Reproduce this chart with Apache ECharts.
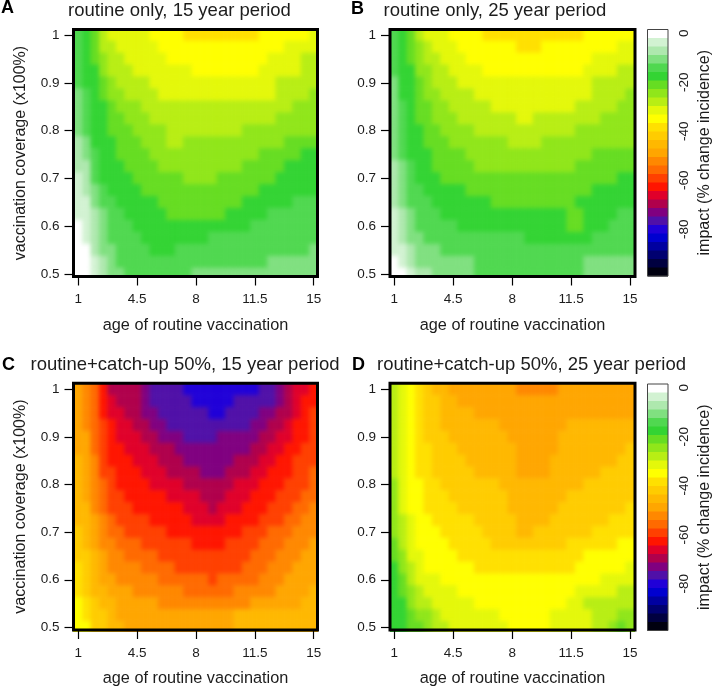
<!DOCTYPE html>
<html>
<head>
<meta charset="utf-8">
<title>Impact of vaccination</title>
<style>
html,body{margin:0;padding:0;background:#fff;}
#chart{width:714px;height:688px;}
/* layer zr_0 holds the heat cells only: soft edges like the resampled raster, trimmed to the four frames */
#chart canvas[data-zr-dom-id="zr_0"]{
  filter:blur(2.2px);
  clip-path:path("M73 29H318V277H73Z M390 29H635V277H390Z M73 383H318V632H73Z M390 383H635V632H390Z");
}
</style>
<script src="https://cdn.jsdelivr.net/npm/echarts@6/dist/echarts.min.js"></script>
</head>
<body>
<div id="chart"></div>
<script>
const ages=[1,1.5,2,2.5,3,3.5,4,4.5,5,5.5,6,6.5,7,7.5,8,8.5,9,9.5,10,10.5,11,11.5,12,12.5,13,13.5,14,14.5,15];
const coverages=[1,0.975,0.95,0.925,0.9,0.875,0.85,0.825,0.8,0.775,0.75,0.725,0.7,0.675,0.65,0.625,0.6,0.575,0.55,0.525,0.5];
const ageTicks=[1,4.5,8,11.5,15];
const coverageTicks=[0.5,0.6,0.7,0.8,0.9,1];
const impactTicks=[0,-20,-40,-60,-80];
const panelTitles=["routine only, 15 year period","routine only, 25 year period","routine+catch-up 50%, 15 year period","routine+catch-up 50%, 25 year period"];
const panelLetters=["A","B","C","D"];
const levelColors=["#ffffff","#d2f2d2","#aee8ae","#80e080","#50d850","#33d433","#66dd22","#90e61a","#b8ee14","#e4f80a","#ffff00","#ffe000","#ffcc00","#ffb800","#ffa600","#ff8800","#ff6a00","#ff4000","#ff1500","#e0002a","#b0004c","#800080","#5010a8","#2000d8","#0000d0","#0000a0","#000070","#000040","#000010"];
const levelValues=[0,-4,-7,-11,-14,-18,-21,-25,-28,-32,-35,-39,-42,-45,-49,-52,-56,-59,-63,-66,-70,-73,-77,-80,-84,-87,-91,-94,-97];

const impactA=[
[-14,-18,-21,-28,-32,-32,-32,-32,-32,-35,-35,-35,-35,-39,-39,-39,-39,-39,-39,-39,-39,-39,-35,-35,-35,-35,-35,-35,-32],
[-14,-18,-21,-28,-28,-32,-32,-32,-32,-32,-35,-35,-35,-35,-35,-35,-35,-35,-35,-35,-35,-35,-35,-35,-35,-32,-32,-32,-32],
[-14,-18,-21,-25,-28,-28,-32,-32,-32,-32,-32,-35,-35,-35,-35,-35,-35,-35,-35,-35,-35,-35,-35,-32,-32,-32,-32,-28,-28],
[-14,-18,-18,-25,-28,-28,-28,-32,-32,-32,-32,-32,-32,-32,-35,-35,-35,-35,-35,-35,-35,-35,-32,-32,-32,-32,-32,-28,-28],
[-14,-18,-18,-21,-25,-28,-28,-28,-28,-32,-32,-32,-32,-32,-32,-32,-32,-32,-32,-32,-32,-32,-32,-32,-28,-28,-28,-28,-28],
[-11,-14,-18,-21,-25,-25,-28,-28,-28,-28,-32,-32,-32,-32,-32,-32,-32,-32,-32,-32,-32,-32,-32,-32,-28,-28,-28,-28,-25],
[-11,-14,-18,-18,-21,-25,-25,-25,-28,-28,-28,-28,-28,-28,-28,-28,-28,-28,-28,-28,-28,-28,-28,-28,-28,-28,-25,-25,-25],
[-11,-14,-18,-18,-21,-21,-25,-25,-25,-28,-28,-28,-28,-28,-28,-28,-28,-28,-28,-28,-28,-28,-28,-28,-25,-25,-25,-25,-25],
[-11,-14,-18,-18,-21,-21,-21,-25,-25,-25,-25,-28,-28,-28,-28,-28,-28,-28,-28,-28,-25,-25,-25,-25,-25,-25,-25,-25,-25],
[-7,-11,-18,-18,-18,-21,-21,-21,-25,-25,-25,-28,-28,-25,-25,-25,-25,-25,-25,-25,-25,-25,-25,-25,-25,-21,-21,-21,-21],
[-7,-11,-14,-18,-18,-21,-21,-21,-21,-25,-25,-25,-25,-25,-25,-25,-25,-25,-25,-25,-25,-25,-21,-21,-21,-21,-21,-18,-18],
[-7,-7,-14,-18,-18,-18,-21,-21,-21,-21,-25,-25,-25,-25,-25,-25,-25,-25,-25,-25,-21,-21,-21,-21,-21,-18,-18,-18,-18],
[-4,-7,-14,-18,-18,-18,-18,-21,-21,-21,-21,-21,-21,-25,-25,-25,-25,-21,-21,-21,-21,-21,-21,-21,-18,-18,-18,-18,-18],
[-4,-7,-11,-14,-18,-18,-18,-18,-21,-21,-21,-21,-21,-21,-21,-21,-21,-21,-21,-21,-21,-21,-18,-18,-18,-18,-18,-18,-18],
[-4,-4,-11,-14,-14,-18,-18,-18,-18,-18,-21,-21,-21,-21,-21,-21,-21,-21,-21,-21,-18,-18,-18,-18,-18,-18,-14,-14,-14],
[-4,-4,-7,-11,-14,-14,-18,-18,-18,-18,-18,-21,-21,-21,-21,-21,-21,-21,-18,-18,-18,-18,-18,-14,-14,-14,-14,-14,-14],
[0,-4,-7,-11,-14,-14,-14,-18,-18,-18,-18,-18,-18,-18,-18,-18,-18,-18,-18,-18,-18,-14,-14,-14,-14,-14,-14,-14,-14],
[0,-4,-7,-11,-14,-14,-14,-14,-18,-18,-18,-18,-18,-18,-18,-18,-14,-14,-14,-14,-14,-14,-14,-14,-14,-14,-14,-14,-14],
[0,0,-7,-11,-11,-14,-14,-14,-14,-18,-18,-18,-14,-14,-14,-14,-14,-14,-14,-14,-14,-14,-14,-14,-14,-14,-14,-14,-11],
[0,0,-4,-7,-11,-14,-14,-14,-14,-14,-14,-14,-14,-14,-14,-14,-14,-14,-14,-14,-14,-14,-14,-11,-11,-11,-11,-11,-11],
[0,0,-4,-7,-11,-11,-14,-14,-14,-14,-14,-14,-14,-14,-11,-11,-11,-11,-11,-11,-11,-11,-11,-11,-11,-11,-11,-11,-11]
];
const impactB=[
[-14,-18,-21,-28,-32,-32,-32,-35,-35,-35,-35,-39,-39,-39,-39,-39,-39,-39,-39,-39,-39,-39,-39,-35,-35,-35,-35,-35,-35],
[-14,-18,-21,-25,-28,-32,-32,-32,-35,-35,-35,-35,-35,-35,-35,-39,-39,-39,-35,-35,-35,-35,-35,-35,-35,-35,-35,-32,-32],
[-14,-18,-21,-25,-28,-28,-32,-32,-32,-35,-35,-35,-35,-35,-35,-35,-35,-35,-35,-35,-35,-35,-35,-35,-32,-32,-32,-32,-32],
[-14,-18,-18,-25,-25,-28,-28,-32,-32,-32,-32,-35,-35,-35,-35,-35,-35,-35,-35,-35,-35,-35,-35,-32,-32,-32,-32,-28,-28],
[-11,-18,-18,-21,-25,-28,-28,-28,-32,-32,-32,-32,-32,-32,-32,-32,-32,-32,-32,-32,-32,-32,-32,-32,-28,-28,-28,-28,-28],
[-11,-18,-18,-21,-25,-25,-28,-28,-28,-28,-32,-32,-32,-32,-32,-32,-32,-32,-32,-32,-32,-32,-32,-32,-28,-28,-28,-28,-25],
[-11,-14,-18,-21,-21,-25,-25,-28,-28,-28,-28,-28,-32,-32,-32,-32,-32,-32,-32,-32,-32,-32,-28,-28,-28,-28,-28,-25,-25],
[-11,-14,-18,-21,-21,-25,-25,-25,-28,-28,-28,-28,-28,-28,-28,-32,-32,-28,-28,-28,-28,-28,-28,-28,-28,-25,-25,-25,-25],
[-11,-14,-18,-18,-21,-21,-25,-25,-25,-25,-28,-28,-28,-28,-28,-28,-28,-28,-28,-28,-28,-28,-25,-25,-25,-25,-25,-25,-25],
[-11,-14,-18,-18,-21,-21,-21,-25,-25,-25,-25,-25,-25,-25,-28,-28,-28,-28,-25,-25,-25,-25,-25,-25,-25,-25,-25,-25,-25],
[-11,-14,-18,-18,-18,-21,-21,-21,-21,-25,-25,-25,-25,-25,-25,-25,-25,-25,-25,-25,-25,-25,-25,-25,-21,-21,-21,-21,-21],
[-7,-11,-14,-18,-18,-21,-21,-21,-21,-21,-25,-25,-25,-25,-25,-25,-25,-25,-25,-25,-25,-25,-21,-21,-21,-21,-21,-21,-21],
[-7,-11,-14,-18,-18,-18,-21,-21,-21,-21,-21,-21,-21,-21,-21,-21,-21,-21,-21,-21,-21,-21,-21,-21,-21,-21,-21,-18,-18],
[-7,-11,-14,-14,-18,-18,-18,-18,-18,-21,-21,-21,-21,-21,-21,-21,-21,-21,-21,-21,-21,-21,-21,-21,-18,-18,-18,-18,-18],
[-7,-11,-14,-14,-14,-18,-18,-18,-18,-18,-18,-18,-21,-21,-21,-21,-21,-21,-21,-21,-21,-21,-18,-18,-18,-18,-18,-18,-18],
[-4,-7,-11,-14,-14,-14,-18,-18,-18,-18,-18,-18,-18,-18,-18,-18,-18,-18,-18,-18,-18,-21,-21,-18,-18,-18,-18,-14,-14],
[-4,-7,-11,-14,-14,-14,-14,-14,-18,-18,-18,-18,-18,-18,-18,-18,-18,-18,-18,-18,-18,-21,-21,-18,-18,-18,-14,-14,-14],
[-4,-7,-11,-11,-14,-14,-14,-14,-14,-14,-14,-14,-14,-14,-14,-14,-18,-18,-18,-18,-18,-18,-18,-18,-14,-14,-14,-14,-14],
[-4,-4,-7,-11,-11,-11,-14,-14,-14,-14,-14,-14,-14,-14,-14,-14,-14,-14,-14,-14,-14,-14,-14,-14,-14,-14,-14,-14,-14],
[0,-4,-7,-11,-11,-11,-11,-11,-11,-11,-14,-14,-14,-14,-14,-14,-14,-14,-14,-14,-14,-14,-14,-11,-11,-11,-11,-11,-11],
[0,0,-4,-7,-7,-11,-11,-11,-11,-11,-14,-14,-14,-14,-14,-14,-14,-14,-14,-14,-14,-14,-14,-11,-11,-11,-11,-11,-11]
];
const impactC=[
[-49,-52,-56,-63,-70,-70,-70,-70,-73,-77,-77,-77,-77,-80,-80,-80,-80,-80,-80,-80,-80,-80,-77,-77,-73,-70,-66,-66,-63],
[-49,-52,-56,-63,-66,-70,-70,-70,-73,-77,-77,-77,-77,-77,-80,-80,-80,-80,-80,-77,-77,-77,-77,-77,-73,-70,-66,-63,-63],
[-49,-52,-56,-63,-66,-66,-70,-70,-73,-73,-77,-77,-77,-77,-77,-77,-80,-80,-77,-77,-77,-77,-73,-73,-70,-70,-66,-63,-59],
[-49,-52,-56,-59,-63,-66,-66,-70,-70,-73,-73,-77,-77,-77,-77,-77,-77,-77,-77,-77,-77,-73,-73,-70,-70,-66,-63,-63,-59],
[-49,-49,-56,-59,-63,-66,-66,-66,-70,-70,-73,-73,-73,-77,-77,-77,-77,-73,-73,-73,-73,-73,-70,-70,-66,-66,-63,-63,-59],
[-49,-49,-56,-59,-63,-63,-66,-66,-66,-70,-70,-70,-73,-73,-73,-73,-73,-73,-73,-73,-73,-70,-70,-66,-66,-63,-63,-59,-59],
[-45,-49,-52,-59,-63,-63,-63,-66,-66,-66,-70,-70,-70,-73,-73,-73,-73,-73,-73,-70,-70,-70,-66,-66,-63,-63,-59,-59,-59],
[-45,-49,-52,-59,-59,-63,-63,-63,-66,-66,-66,-70,-70,-70,-70,-73,-73,-73,-70,-70,-70,-66,-66,-63,-63,-63,-59,-59,-56],
[-45,-49,-52,-56,-59,-63,-63,-63,-63,-66,-66,-66,-66,-70,-70,-70,-70,-70,-70,-66,-66,-66,-63,-63,-63,-59,-59,-59,-56],
[-45,-49,-52,-56,-59,-59,-63,-63,-63,-63,-63,-66,-66,-66,-66,-70,-70,-70,-66,-66,-66,-63,-63,-63,-59,-59,-59,-56,-56],
[-45,-45,-52,-56,-59,-59,-59,-63,-63,-63,-63,-63,-63,-66,-66,-66,-70,-66,-66,-66,-63,-63,-63,-59,-59,-59,-56,-56,-52],
[-45,-45,-49,-52,-56,-59,-59,-59,-59,-63,-63,-63,-63,-63,-66,-66,-66,-66,-63,-63,-63,-63,-59,-59,-59,-56,-56,-52,-52],
[-42,-45,-49,-52,-56,-56,-59,-59,-59,-59,-59,-63,-63,-63,-63,-63,-63,-63,-63,-63,-59,-59,-59,-56,-56,-56,-52,-52,-52],
[-42,-45,-49,-52,-52,-56,-56,-56,-59,-59,-59,-59,-59,-59,-63,-63,-63,-63,-59,-59,-59,-59,-56,-56,-56,-52,-52,-52,-49],
[-42,-42,-45,-49,-52,-52,-56,-56,-56,-56,-59,-59,-59,-59,-59,-59,-59,-59,-59,-59,-59,-56,-56,-56,-52,-52,-52,-49,-49],
[-39,-42,-45,-49,-52,-52,-52,-52,-56,-56,-56,-56,-59,-59,-59,-59,-59,-59,-59,-59,-56,-56,-56,-52,-52,-52,-49,-49,-49],
[-39,-42,-45,-49,-49,-52,-52,-52,-52,-52,-56,-56,-56,-56,-56,-56,-59,-56,-56,-56,-56,-56,-52,-52,-52,-49,-49,-49,-49],
[-39,-42,-45,-45,-49,-49,-49,-52,-52,-52,-52,-52,-52,-56,-56,-56,-56,-56,-56,-52,-52,-52,-52,-52,-49,-49,-49,-49,-45],
[-35,-39,-42,-45,-45,-49,-49,-49,-49,-49,-52,-52,-52,-52,-52,-52,-52,-52,-52,-52,-52,-49,-49,-49,-49,-49,-49,-45,-45],
[-35,-39,-42,-42,-45,-49,-49,-49,-49,-49,-49,-49,-49,-49,-49,-49,-49,-49,-49,-45,-45,-45,-45,-45,-45,-45,-45,-45,-45],
[-35,-35,-42,-42,-45,-45,-49,-49,-49,-49,-49,-49,-49,-49,-49,-49,-49,-49,-49,-45,-45,-45,-45,-45,-45,-45,-45,-45,-45]
];
const impactD=[
[-28,-32,-35,-39,-42,-45,-45,-49,-49,-49,-49,-49,-49,-49,-49,-52,-52,-52,-52,-52,-49,-49,-49,-49,-49,-49,-49,-49,-49],
[-28,-32,-35,-39,-42,-42,-45,-45,-49,-49,-49,-49,-49,-49,-49,-49,-49,-49,-49,-49,-49,-49,-49,-49,-49,-49,-49,-49,-49],
[-28,-32,-35,-39,-42,-42,-45,-45,-45,-45,-49,-49,-49,-49,-49,-49,-49,-49,-49,-49,-49,-49,-49,-49,-49,-49,-49,-49,-49],
[-28,-32,-35,-39,-42,-42,-45,-45,-45,-45,-45,-45,-45,-49,-49,-49,-49,-49,-49,-49,-49,-45,-45,-45,-45,-45,-45,-45,-45],
[-28,-32,-35,-39,-42,-42,-42,-45,-45,-45,-45,-45,-45,-45,-49,-49,-49,-49,-49,-49,-45,-45,-45,-45,-45,-45,-45,-45,-45],
[-28,-32,-35,-39,-39,-42,-42,-42,-45,-45,-45,-45,-45,-45,-45,-49,-49,-49,-49,-49,-45,-45,-45,-45,-45,-45,-45,-45,-42],
[-28,-32,-35,-39,-39,-42,-42,-42,-42,-45,-45,-45,-45,-45,-45,-49,-49,-49,-49,-45,-45,-45,-45,-45,-45,-45,-45,-42,-42],
[-28,-32,-35,-39,-39,-42,-42,-42,-42,-42,-45,-45,-45,-45,-45,-49,-49,-49,-49,-45,-45,-45,-45,-45,-45,-42,-42,-42,-42],
[-25,-32,-35,-35,-39,-39,-42,-42,-42,-42,-42,-42,-42,-45,-45,-45,-45,-45,-45,-45,-45,-45,-45,-42,-42,-42,-42,-42,-42],
[-25,-32,-35,-35,-39,-39,-39,-42,-42,-42,-42,-42,-42,-42,-45,-45,-45,-45,-45,-45,-45,-42,-42,-42,-42,-42,-42,-42,-42],
[-25,-32,-35,-35,-39,-39,-39,-39,-42,-42,-42,-42,-42,-42,-45,-45,-45,-45,-45,-45,-42,-42,-42,-42,-42,-42,-42,-42,-39],
[-25,-28,-32,-35,-35,-39,-39,-39,-39,-39,-42,-42,-42,-42,-42,-45,-45,-45,-45,-42,-42,-42,-42,-42,-42,-42,-39,-39,-39],
[-25,-28,-32,-35,-35,-35,-39,-39,-39,-39,-39,-42,-42,-42,-42,-45,-45,-42,-42,-42,-42,-42,-42,-42,-39,-39,-39,-39,-39],
[-21,-28,-32,-35,-35,-35,-35,-39,-39,-39,-39,-39,-42,-42,-42,-42,-42,-42,-42,-42,-42,-39,-39,-39,-39,-39,-39,-35,-35],
[-21,-25,-32,-32,-35,-35,-35,-35,-39,-39,-39,-39,-39,-39,-39,-39,-39,-39,-39,-39,-39,-39,-39,-35,-35,-35,-35,-35,-35],
[-18,-25,-28,-32,-35,-35,-35,-35,-35,-35,-39,-39,-39,-39,-39,-39,-39,-39,-39,-39,-39,-39,-35,-35,-35,-35,-35,-35,-32],
[-18,-21,-28,-32,-32,-32,-35,-35,-35,-35,-35,-35,-35,-35,-35,-35,-35,-35,-35,-35,-35,-35,-35,-35,-35,-32,-32,-32,-32],
[-18,-21,-25,-28,-32,-32,-32,-32,-35,-35,-35,-35,-35,-35,-35,-35,-35,-35,-35,-35,-35,-35,-32,-32,-32,-32,-32,-28,-28],
[-18,-18,-25,-28,-28,-32,-32,-32,-32,-32,-35,-35,-35,-35,-35,-35,-35,-35,-35,-35,-35,-32,-32,-28,-28,-28,-28,-28,-28],
[-18,-18,-21,-25,-25,-28,-32,-32,-32,-32,-32,-32,-32,-35,-35,-35,-35,-35,-35,-32,-32,-32,-32,-32,-28,-28,-28,-25,-25],
[-18,-18,-21,-21,-25,-28,-28,-32,-32,-32,-32,-32,-32,-32,-35,-35,-35,-35,-35,-32,-32,-32,-32,-32,-28,-28,-25,-21,-25]
];
const panelValues=[impactA,impactB,impactC,impactD];

const FONT='"Liberation Sans", Arial, sans-serif';
const INK='#1c1c1c';
const LEVEL_TOP=1.5, LEVEL_STEP=3.47, AGE_HALF=0.25, COV_HALF=0.0125;

function colorOf(v){
  let k=Math.floor((LEVEL_TOP-v)/LEVEL_STEP);
  k=Math.max(0,Math.min(levelColors.length-1,k));
  return levelColors[k];
}
function renderCell(params,api){
  const x=api.value(0),y=api.value(1);
  const a=api.coord([x-AGE_HALF,y+COV_HALF]),b=api.coord([x+AGE_HALF,y-COV_HALF]);
  let x0=a[0],y0=a[1],x1=b[0],y1=b[1];
  if(x===ages[0])x0-=8;
  if(x===ages[ages.length-1])x1+=8;
  if(y===coverages[0])y0-=8;
  if(y===coverages[coverages.length-1])y1+=8;
  const c=colorOf(api.value(2));
  return {type:'rect',shape:{x:x0,y:y0,width:x1-x0,height:y1-y0},style:{fill:c,stroke:c,lineWidth:0.6}};
}
function renderLevel(params,api){
  const a=api.coord([0,api.value(1)+LEVEL_STEP/2]),b=api.coord([1,api.value(1)-LEVEL_STEP/2]);
  return {type:'rect',shape:{x:a[0],y:a[1],width:b[0]-a[0],height:b[1]-a[1]+0.5},style:{fill:api.value(2)}};
}

const layouts=[
 {left:73.5,top:29.5,width:244,height:247,xMin:0.714,xMax:15.226,yMin:0.4948,yMax:1.0115,yName:true},
 {left:390,top:29.5,width:245,height:247,xMin:0.744,xMax:15.30,yMin:0.4948,yMax:1.0115,yName:false},
 {left:73.5,top:383.2,width:244,height:248,xMin:0.714,xMax:15.226,yMin:0.4943,yMax:1.0136,yName:true},
 {left:390,top:383.2,width:245,height:248,xMin:0.744,xMax:15.30,yMin:0.4943,yMax:1.0136,yName:false}
];
const titlePos=[{x:179.5,y:1,lx:1,ly:-1},{x:495,y:1,lx:351,ly:0},{x:185,y:355,lx:2,ly:356},{x:531.5,y:355,lx:352,ly:356}];

const grid=[],xAxis=[],yAxis=[],series=[],title=[];
const tickStyle={show:true,length:9,lineStyle:{color:'#000',width:1.2}};
layouts.forEach((L,i)=>{
  grid.push({left:L.left,top:L.top,width:L.width,height:L.height,show:true,borderColor:'#000',borderWidth:3,backgroundColor:'transparent',zlevel:1,z:10});
  xAxis.push({gridIndex:i,type:'value',min:L.xMin,max:L.xMax,zlevel:1,z:9,
    axisLine:{show:false},splitLine:{show:false},
    axisTick:Object.assign({customValues:ageTicks},tickStyle),
    axisLabel:{customValues:ageTicks,margin:16,fontSize:13.5,fontFamily:FONT,color:INK,hideOverlap:false},
    name:'age of routine vaccination',nameLocation:'middle',nameGap:41,
    nameTextStyle:{fontSize:16.3,fontFamily:FONT,color:INK}});
  yAxis.push({gridIndex:i,type:'value',min:L.yMin,max:L.yMax,zlevel:1,z:9,
    axisLine:{show:false},splitLine:{show:false},
    axisTick:Object.assign({customValues:coverageTicks},tickStyle),
    axisLabel:{customValues:coverageTicks,margin:14,fontSize:13.5,fontFamily:FONT,color:INK,hideOverlap:false},
    name:L.yName?'vaccination coverage (x100%)':'',nameLocation:'middle',nameGap:45,
    nameTextStyle:{fontSize:16,fontFamily:FONT,color:INK}});
  const data=[];
  panelValues[i].forEach((row,r)=>row.forEach((v,c)=>data.push([ages[c],coverages[r],v])));
  series.push({type:'custom',coordinateSystem:'cartesian2d',xAxisIndex:i,yAxisIndex:i,data,renderItem:renderCell,
    encode:{x:0,y:1},silent:true,animation:false,progressive:0,zlevel:0,clip:false});
  const T=titlePos[i];
  title.push({text:panelTitles[i],left:T.x,top:T.y,textAlign:'center',zlevel:1,padding:0,
    textStyle:{fontSize:18.5,fontWeight:'normal',fontFamily:FONT,color:INK}});
  title.push({text:panelLetters[i],left:T.lx,top:T.ly,zlevel:1,padding:0,
    textStyle:{fontSize:18,fontWeight:'bold',fontFamily:FONT,color:'#000'}});
});
[{top:29.5,height:246.5},{top:384,height:246.5}].forEach((B,n)=>{
  const gi=grid.length;
  grid.push({left:647.5,top:B.top,width:21.5,height:B.height,show:true,borderColor:'#444',borderWidth:1,backgroundColor:'transparent',zlevel:1,z:10});
  xAxis.push({gridIndex:gi,type:'value',min:0,max:1,show:false,zlevel:1});
  yAxis.push({gridIndex:gi,type:'value',position:'right',min:LEVEL_TOP-LEVEL_STEP*levelValues.length,max:LEVEL_TOP,zlevel:1,z:9,
    axisLine:{show:false},splitLine:{show:false},axisTick:{show:false,customValues:impactTicks},
    axisLabel:{customValues:impactTicks,rotate:90,margin:9,fontSize:13.5,fontFamily:FONT,color:INK,hideOverlap:false},
    name:'impact (% change incidence)',nameLocation:'middle',nameRotate:90,nameGap:29,
    nameTextStyle:{fontSize:16,fontFamily:FONT,color:INK}});
  series.push({type:'custom',coordinateSystem:'cartesian2d',xAxisIndex:gi,yAxisIndex:gi,
    data:levelValues.map((v,k)=>[0.5,LEVEL_TOP-LEVEL_STEP*(k+0.5),levelColors[k]]),
    renderItem:renderLevel,encode:{x:0,y:1},silent:true,animation:false,progressive:0,zlevel:1,z:5});
});

const chart=echarts.init(document.getElementById('chart'),null,{renderer:'canvas',width:714,height:688});
chart.setOption({animation:false,backgroundColor:'transparent',title,grid,xAxis,yAxis,series});
</script>
</body>
</html>
